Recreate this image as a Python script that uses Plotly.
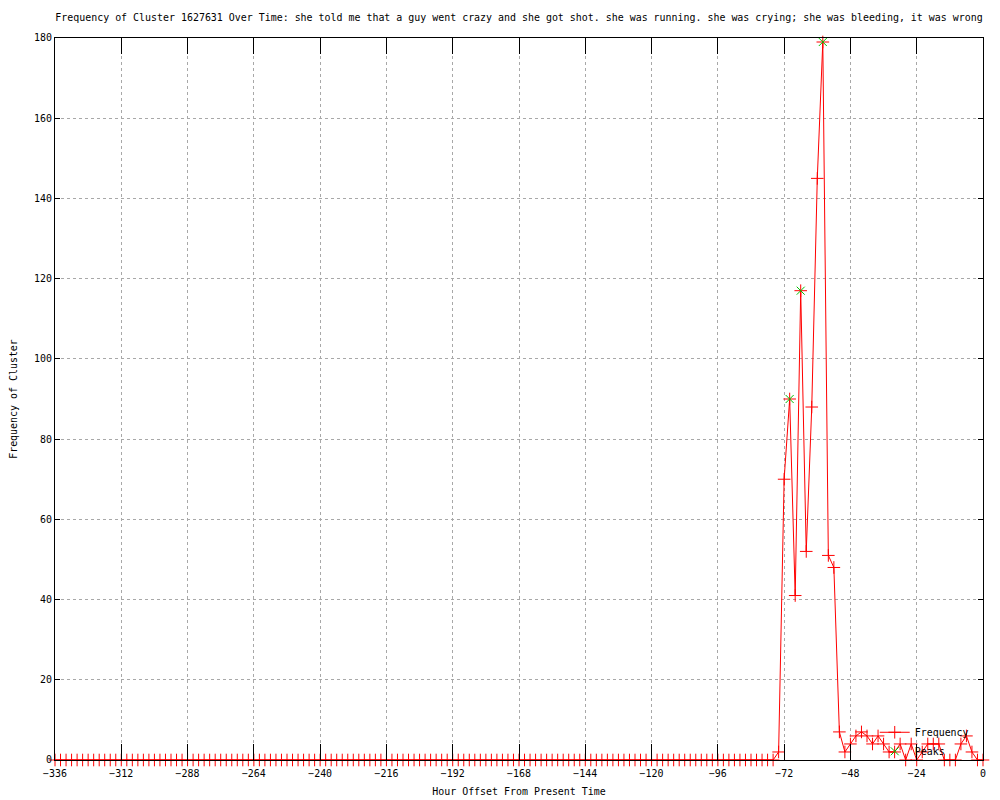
import plotly.graph_objects as go

# ---- data ----
zero_hours = list(range(-336, -75, 2))
zero_values = [0] * len(zero_hours)

active_hours = list(range(-74, 1, 2))
active_values = [2, 70, 90, 41, 117, 52, 88, 145, 179, 51,
                 48, 7, 2, 4, 6, 7, 6, 4, 6, 4,
                 2, 2, 4, 0, 4, 0, 2, 4, 4, 4,
                 0, 0, 0, 4, 6, 2, 0, 0]

hours = zero_hours + active_hours
freq = zero_values + active_values

peak_hours = [-70, -66, -58]
peak_values = [90, 117, 179]

x_ticks = list(range(-336, 1, 24))
y_ticks = list(range(0, 181, 20))

title_text = ("Frequency of Cluster 1627631 Over Time: she told me that a guy went crazy "
              "and she got shot. she was running. she was crying; she was bleeding, it was wrong")

FONT = "DejaVu Sans Mono"
FS = 9.95

fig = go.Figure()
fig.add_trace(go.Scatter(
    x=hours, y=freq, mode="lines+markers", name="Frequency", cliponaxis=False,
    line=dict(color="#ff0000", width=1),
    marker=dict(symbol="cross-thin", size=9, line=dict(color="#ff0000", width=1), color="#ff0000"),
))
fig.add_trace(go.Scatter(
    x=peak_hours, y=peak_values, mode="markers", name="Peaks", cliponaxis=False,
    marker=dict(symbol="x-thin", size=8, line=dict(color="#00c000", width=1), color="#00c000"),
))

axis_common = dict(
    showline=True, linecolor="black", linewidth=1, mirror="ticks",
    ticks="inside", tickcolor="black", tickwidth=1,
    showgrid=True, gridcolor="#a8a8a8", griddash="dot", gridwidth=1,
    zeroline=False, tickfont=dict(family=FONT, size=FS, color="black"),
)

W, H = 992, 792
fig.update_layout(
    width=W, height=H,
    paper_bgcolor="white", plot_bgcolor="white",
    margin=dict(l=47, r=17, t=30, b=40, autoexpand=False),
    title=dict(text=title_text, x=0.5, xref="paper", xanchor="center",
               y=1 - 10 / H, yref="container", yanchor="middle",
               font=dict(family=FONT, size=FS, color="black")),
    xaxis=dict(range=[-336, 0], tickvals=x_ticks, ticklen=16, ticklabelstandoff=4,
               title=dict(text="Hour Offset From Present Time", font=dict(family=FONT, size=FS, color="black"),
                          standoff=10),
               **axis_common),
    yaxis=dict(range=[0, 180], tickvals=y_ticks, ticklen=5,
               title=dict(text="Frequency of Cluster", font=dict(family=FONT, size=FS, color="black"),
                          standoff=14),
               **axis_common),
    showlegend=True,
    legend=dict(x=0.99, y=-0.008, xanchor="right", yanchor="bottom",
                bgcolor="rgba(0,0,0,0)", font=dict(family=FONT, size=FS, color="black"),
                tracegroupgap=0, itemwidth=30),
)

fig.write_html("out.html")
